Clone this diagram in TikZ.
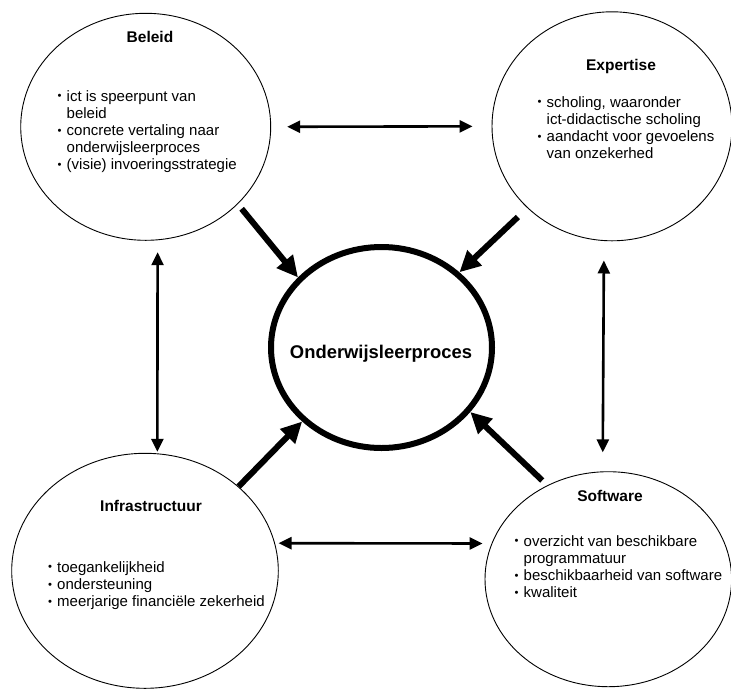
\documentclass[tikz,border=0pt]{standalone}
\usepackage{fontspec}
\setmainfont{Liberation Sans}
\usetikzlibrary{arrows.meta,shapes.geometric}

\newcommand{\itm}{\makebox[9pt][l]{\raisebox{1.2pt}{\scalebox{.75}{\textbullet}}}}
\newcommand{\cnt}{\hspace*{9pt}}

\begin{document}
\begin{tikzpicture}[x=1pt,y=-1pt,
  area/.style={draw,ellipse,line width=.9pt,inner sep=0pt},
  head/.style={font=\fontsize{15.5}{18}\selectfont\bfseries},
  items/.style={font=\fontsize{15}{17.2}\selectfont,align=left,anchor=north west,inner sep=0pt},
  link/.style={{Triangle[length=13pt,width=12pt]}-{Triangle[length=13pt,width=12pt]},line width=2.6pt},
  infl/.style={-{Triangle[length=21pt,width=20pt]},line width=6pt}]
\useasboundingbox (0,0) rectangle (731,689);
\node[area,minimum width=250pt,minimum height=227pt] (beleid) at (145.7,126.8) {};
\node[area,minimum width=240pt,minimum height=229pt] (expertise) at (612,126.3) {};
\node[area,minimum width=266.6pt,minimum height=235pt] (infra) at (145,570.8) {};
\node[area,minimum width=246.6pt,minimum height=215pt] (software) at (608.3,579.2) {};
\node[area,line width=6pt,minimum width=221pt,minimum height=201pt] (centre) at (381.5,347.5) {};
\node[font=\fontsize{18.4}{22}\selectfont\bfseries] (proc) at (381,354) {Onderwijsleerproces};
\node[head] (beleidhead) at (150,37) {Beleid};
\node[head] (experthead) at (621,66) {Expertise};
\node[head] (infrahead) at (151,505.5) {Infrastructuur};
\node[head] (softhead) at (610,495.5) {Software};
\node[items] (beleidlist) at (57.5,90) {\itm ict is speerpunt van\\\cnt beleid\\\itm concrete vertaling naar\\\cnt onderwijsleerproces\\\itm (visie) invoeringsstrategie};
\node[items] (expertlist) at (537.5,96) {\itm scholing, waaronder\\\cnt ict-didactische scholing\\\itm aandacht voor gevoelens\\\cnt van onzekerhed};
\node[items] (infralist) at (48,561) {\itm toegankelijkheid\\\itm ondersteuning\\\itm meerjarige financiële zekerheid};
\node[items] (softlist) at (514.5,535) {\itm overzicht van beschikbare\\\cnt programmatuur\\\itm beschikbaarheid van software\\\itm kwaliteit};
\draw[link,shorten <=16pt,shorten >=19pt] (beleid.east) -- (expertise.west);
\draw[link,shorten <=3.5pt,shorten >=9pt] (infra.12) -- (software.163);
\draw[link,shorten <=12pt,shorten >=1.5pt] (beleid.276) -- (infra.84);
\draw[link,shorten <=19.5pt,shorten >=19pt] (expertise.266) -- (software.93);
\draw[infl,shorten <=6pt] (beleid.320) -- (centre.140);
\draw[infl,shorten <=13pt] (expertise.224) -- (centre.44);
\draw[infl] (infra.42) -- (centre.223);
\draw[infl,shorten <=7pt] (software.123) -- (centre.324);
\end{tikzpicture}
\end{document}
